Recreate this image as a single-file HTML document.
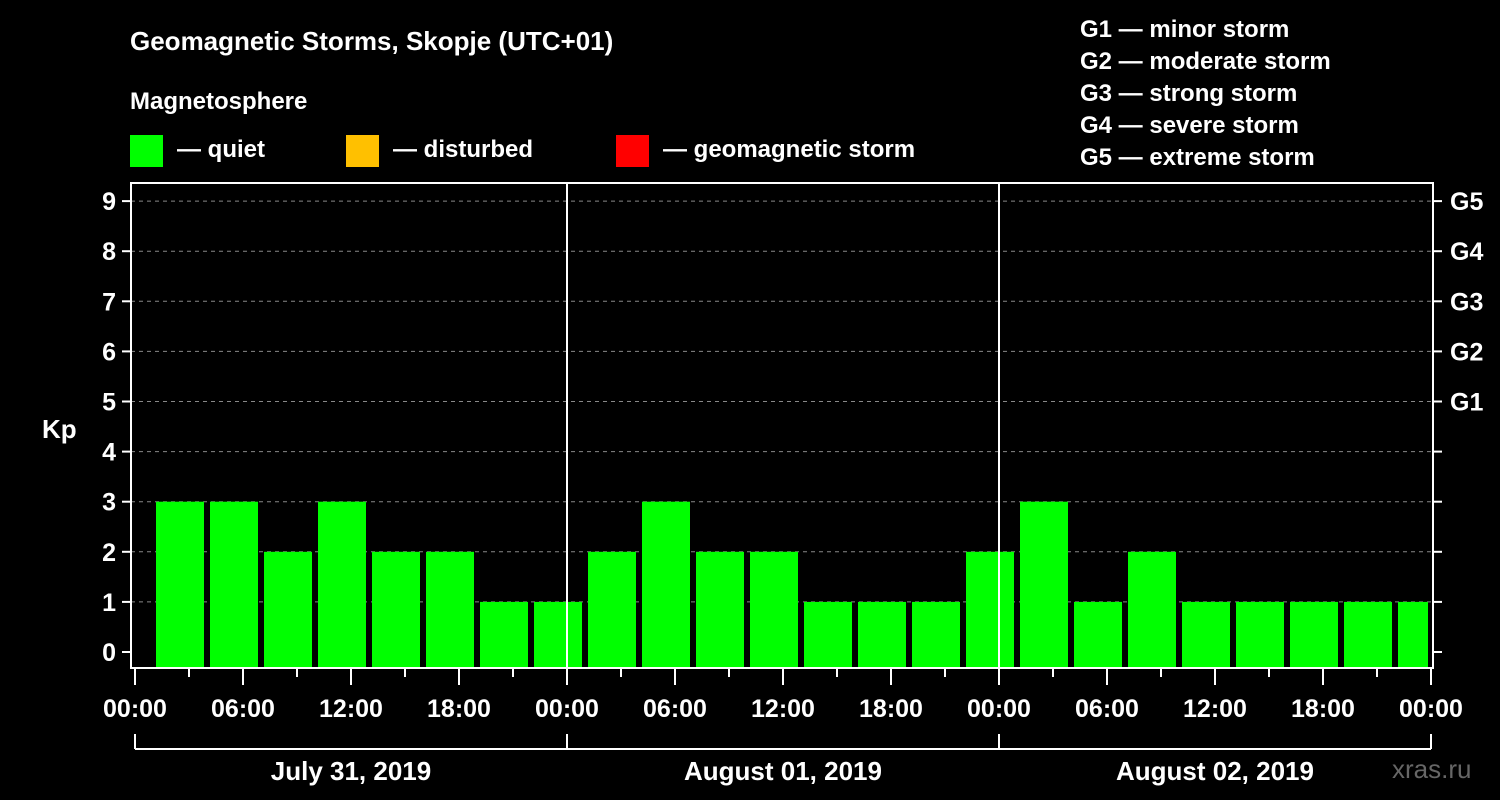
<!DOCTYPE html>
<html><head><meta charset="utf-8"><style>
body{margin:0;background:#000;}
svg{display:block;font-family:"Liberation Sans",Arial,sans-serif;font-weight:bold;}
</style></head><body>
<svg id="c" width="1500" height="800" viewBox="0 0 1500 800">
<rect width="1500" height="800" fill="#000"/>
<text x="130" y="50" fill="#fff" font-size="26">Geomagnetic Storms, Skopje (UTC+01)</text>
<text x="130" y="109" fill="#fff" font-size="24">Magnetosphere</text>
<g><rect x="130" y="135" width="33" height="32" fill="#00ff00"/><text x="177" y="157" fill="#fff" font-size="24">— quiet</text></g>
<g><rect x="346" y="135" width="33" height="32" fill="#ffc000"/><text x="393" y="157" fill="#fff" font-size="24">— disturbed</text></g>
<g><rect x="616" y="135" width="33" height="32" fill="#ff0000"/><text x="663" y="157" fill="#fff" font-size="24">— geomagnetic storm</text></g>
<g fill="#fff" font-size="24">
<text x="1080" y="37">G1 — minor storm</text>
<text x="1080" y="69">G2 — moderate storm</text>
<text x="1080" y="101">G3 — strong storm</text>
<text x="1080" y="133">G4 — severe storm</text>
<text x="1080" y="165">G5 — extreme storm</text>
</g>
<text x="42" y="438" fill="#fff" font-size="26">Kp</text>
<text x="1392" y="778" fill="#666" font-size="26" font-weight="normal">xras.ru</text>
<g id="grid"></g><g id="bars"></g><g id="axes"></g>
</svg>
<script>
const kpValues=[3,3,2,3,2,2,1,1,2,3,2,2,1,1,1,2,3,1,2,1,1,1,1,1,1];
const yTicks=[0,1,2,3,4,5,6,7,8,9];
const gLabels=["G1","G2","G3","G4","G5"];
const xLabels=["00:00","06:00","12:00","18:00","00:00","06:00","12:00","18:00","00:00","06:00","12:00","18:00","00:00"];
const dayLabels=["July 31, 2019","August 01, 2019","August 02, 2019"];
const NS="http://www.w3.org/2000/svg";
const L=131,R=1433,T=183,B=668,X0=135,DAY=432;
const y=k=>652-50.1*k;
const x=h=>X0+h*DAY/24; // hours since start
function mk(tag,attrs,parent){const e=document.createElementNS(NS,tag);for(const k in attrs)e.setAttribute(k,attrs[k]);document.getElementById(parent).appendChild(e);return e;}
yTicks.forEach(k=>{
 if(k>0){const g=mk('line',{x1:L,x2:R,y1:y(k),y2:y(k),stroke:'#888','stroke-dasharray':'4,4','stroke-width':1},'grid');
 
 }
 const t=mk('line',{x1:122,x2:L,y1:y(k),y2:y(k),stroke:'#fff','stroke-width':2},'axes');
 
 
 const t2=mk('line',{x1:R,x2:1442,y1:y(k),y2:y(k),stroke:'#fff','stroke-width':2},'axes');
 
 
 const lb=mk('text',{x:116,y:y(k)+9,fill:'#fff','font-size':25,'text-anchor':'end'},'axes');lb.textContent=k;
 
 
 if(k>=5){const gl=mk('text',{x:1450,y:y(k)+9,fill:'#fff','font-size':25},'axes');gl.textContent=gLabels[k-5];
 
 }
});
kpValues.forEach((v,i)=>{
 let x1=x(3*i+1)+3,x2=x(3*i+4)-3;
 x1=Math.max(x1,136);x2=Math.min(x2,1428);
 const c=v>=5?'#ff0000':(v>=4?'#ffc000':'#00ff00');
 const r=mk('rect',{x:x1,y:y(v),width:x2-x1,height:667-y(v),fill:c},'bars');
 
 
});
[1,2].forEach(d=>{const l=mk('line',{x1:x(24*d),x2:x(24*d),y1:T,y2:B,stroke:'#fff','stroke-width':2},'axes');
 
 });
const fr=mk('rect',{x:L,y:T,width:R-L,height:B-T,fill:'none',stroke:'#fff','stroke-width':2},'axes');


xLabels.forEach((s,i)=>{
 const xx=x(6*i);
 const tk=mk('line',{x1:xx,x2:xx,y1:B,y2:685,stroke:'#fff','stroke-width':2},'axes');
 
 
 if(i<12){const m=mk('line',{x1:x(6*i+3),x2:x(6*i+3),y1:B,y2:677,stroke:'#fff','stroke-width':2},'axes');
 
 }
 const lb=mk('text',{x:xx,y:717,fill:'#fff','font-size':25,'text-anchor':'middle'},'axes');lb.textContent=s;
 
 
});
const br=mk('line',{x1:x(0),x2:x(72),y1:749,y2:749,stroke:'#fff','stroke-width':2},'axes');


[0,1,2,3].forEach(d=>{const v=mk('line',{x1:x(24*d),x2:x(24*d),y1:734,y2:749,stroke:'#fff','stroke-width':2},'axes');
 
 });
dayLabels.forEach((s,d)=>{const t=mk('text',{x:x(24*d+12),y:780,fill:'#fff','font-size':26,'text-anchor':'middle'},'axes');t.textContent=s;
 
 });
</script>
</body></html>
